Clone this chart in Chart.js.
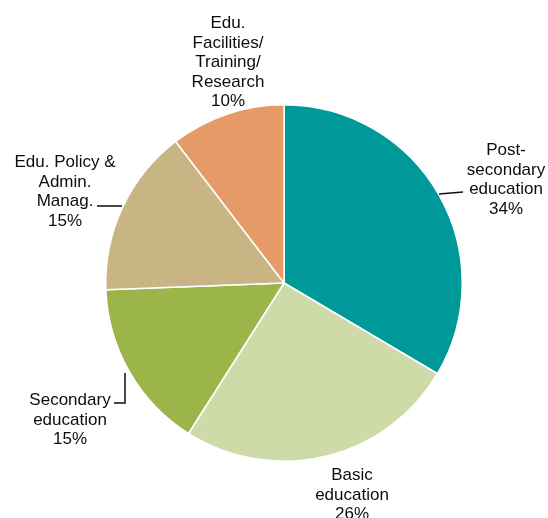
<!DOCTYPE html>
<html>
<head>
<meta charset="utf-8">
<script src="https://cdn.jsdelivr.net/npm/chart.js@4/dist/chart.umd.min.js"></script>
<style>
  html, body { margin: 0; padding: 0; background: #ffffff; }
  #wrap { width: 548px; height: 518px; }
</style>
</head>
<body>
<div id="wrap"><canvas id="c" width="548" height="518"></canvas></div>
<script>
// ---- data ----
const categories = [
  "Post-secondary education",
  "Basic education",
  "Secondary education",
  "Edu. Policy & Admin. Manag.",
  "Edu. Facilities/Training/Research"
];
const labelLines = [
  ["Post-", "secondary", "education"],
  ["Basic", "education"],
  ["Secondary", "education"],
  ["Edu. Policy &", "Admin.", "Manag."],
  ["Edu.", "Facilities/", "Training/", "Research"]
];
const shares = [33.5, 25.5, 15.4, 15.2, 10.4];
const colors = ["#009999", "#CEDBA8", "#9CB54B", "#C9B584", "#E59A67"];

// ---- label layout (annotation placement, not data) ----
const labelLayout = [
  { x: 506, y: 155, leader: [[463, 192], [439, 194]] },
  { x: 352, y: 480, leader: null },
  { x: 70,  y: 405, leader: [[114, 403], [125, 403], [125, 373]] },
  { x: 65,  y: 167, leader: [[97, 206], [122, 206]] },
  { x: 228, y: 28,  leader: null }
];
const lineStep = 19.5;

const labelPlugin = {
  id: 'outerLabels',
  afterDatasetsDraw(chart) {
    const ctx = chart.ctx;
    const ds = chart.data.datasets[0];
    ctx.save();
    ctx.font = '17px "Liberation Sans", Arial, sans-serif';
    ctx.fillStyle = '#0d0d0d';
    ctx.textAlign = 'center';
    ctx.textBaseline = 'alphabetic';
    ds.data.forEach((v, i) => {
      const lay = labelLayout[i];
      const lines = labelLines[i].concat([Math.round(v) + '%']);
      lines.forEach((t, k) => ctx.fillText(t, lay.x, lay.y + k * lineStep));
      if (lay.leader) {
        ctx.beginPath();
        ctx.strokeStyle = '#0d0d0d';
        ctx.lineWidth = 1.5;
        lay.leader.forEach((p, k) => k ? ctx.lineTo(p[0], p[1]) : ctx.moveTo(p[0], p[1]));
        ctx.stroke();
      }
    });
    ctx.restore();
  }
};

new Chart(document.getElementById('c'), {
  type: 'pie',
  data: {
    labels: categories,
    datasets: [{
      data: shares,
      backgroundColor: colors,
      borderColor: '#ffffff',
      borderWidth: 1.5
    }]
  },
  options: {
    responsive: false,
    animation: false,
    layout: { padding: { left: 105, right: 85, top: 104, bottom: 56 } },
    plugins: {
      legend: { display: false },
      tooltip: { enabled: false }
    }
  },
  plugins: [labelPlugin]
});
</script>
</body>
</html>
